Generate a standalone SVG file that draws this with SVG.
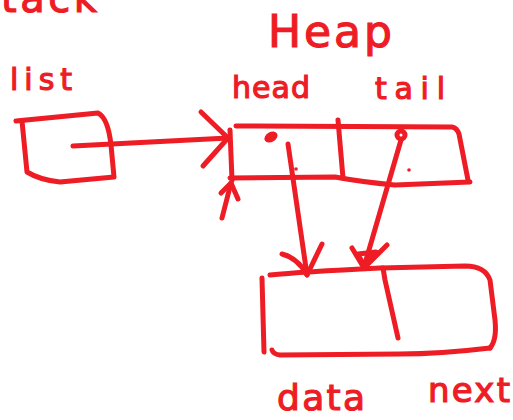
<svg xmlns="http://www.w3.org/2000/svg" width="513" height="420" viewBox="0 0 513 420">
<style>
.s{fill:none;stroke:#ee1c25;stroke-width:5;stroke-linecap:round;stroke-linejoin:round}
.t{fill:#ee1c25;stroke:#ee1c25;stroke-width:1.2;font-family:"DejaVu Sans",sans-serif}
</style>
<rect width="513" height="420" fill="#fff"/>
<text class="t" x="-28" y="12" font-size="40" textLength="125" lengthAdjust="spacing">Stack</text>
<text class="t" x="268" y="47" font-size="44" textLength="124" lengthAdjust="spacing">Heap</text>
<text class="t" x="10" y="90" font-size="30" textLength="62" lengthAdjust="spacing">list</text>
<text class="t" x="232" y="98" font-size="30" textLength="78" lengthAdjust="spacing">head</text>
<text class="t" x="375" y="99" font-size="30" textLength="70" lengthAdjust="spacing">tail</text>
<text class="t" x="277" y="410" font-size="36" textLength="88" lengthAdjust="spacing">data</text>
<text class="t" x="428" y="402" font-size="34" textLength="82" lengthAdjust="spacing">next</text>
<g id="list-box">
<path class="s" d="M16,121 L98,113 Q108,118 111,145 L114,177 L60,182 Q40,180 27,172 L22,121"/>
</g>
<g id="heap-node">
<path class="s" d="M230,130 L232,180"/>
<path class="s" d="M236,126 L452,127 Q457,128 459,134 L468,180"/>
<path class="s" d="M470,182 L395,185 Q362,182 335,177 L230,178"/>
<path class="s" d="M338,120 L343,178"/>
<circle cx="296" cy="169" r="1.8" fill="#ee1c25"/>
<circle cx="409" cy="170" r="1.8" fill="#ee1c25"/>
<ellipse cx="271" cy="137" rx="7" ry="5" transform="rotate(-30 271 137)" fill="#ee1c25"/>
<circle cx="401" cy="135" r="4" class="s" stroke-width="4"/>
</g>
<g id="data-node">
<path class="s" d="M262,278 L264,352"/>
<path class="s" d="M270,275 Q300,272 380,268 L465,266 Q485,266 490,280 L495,320 Q497,340 490,348"/>
<path class="s" d="M490,348 Q440,354 400,354 L280,355 Q273,354 272,350"/>
<path class="s" d="M383,268 L385,280 L398,338"/>
</g>
<g id="connectors">
<path class="s" d="M73,146 L228,138"/>
<path class="s" d="M201,112 L228,138 L203,166"/>
<path class="s" d="M288,144 L307,275"/>
<path class="s" d="M282,254 Q298,258 307,275 L322,244"/>
<path class="s" d="M401,140 L364,267"/>
<path class="s" d="M352,248 L364,268 L387,245" stroke-width="6"/>
<path class="s" d="M358,254 L364,266 L376,252 Z" fill="#ee1c25"/>
<path class="s" d="M222,218 L231,183"/>
<path class="s" d="M221,193 L231,183 L238,199"/>
</g>
</svg>
